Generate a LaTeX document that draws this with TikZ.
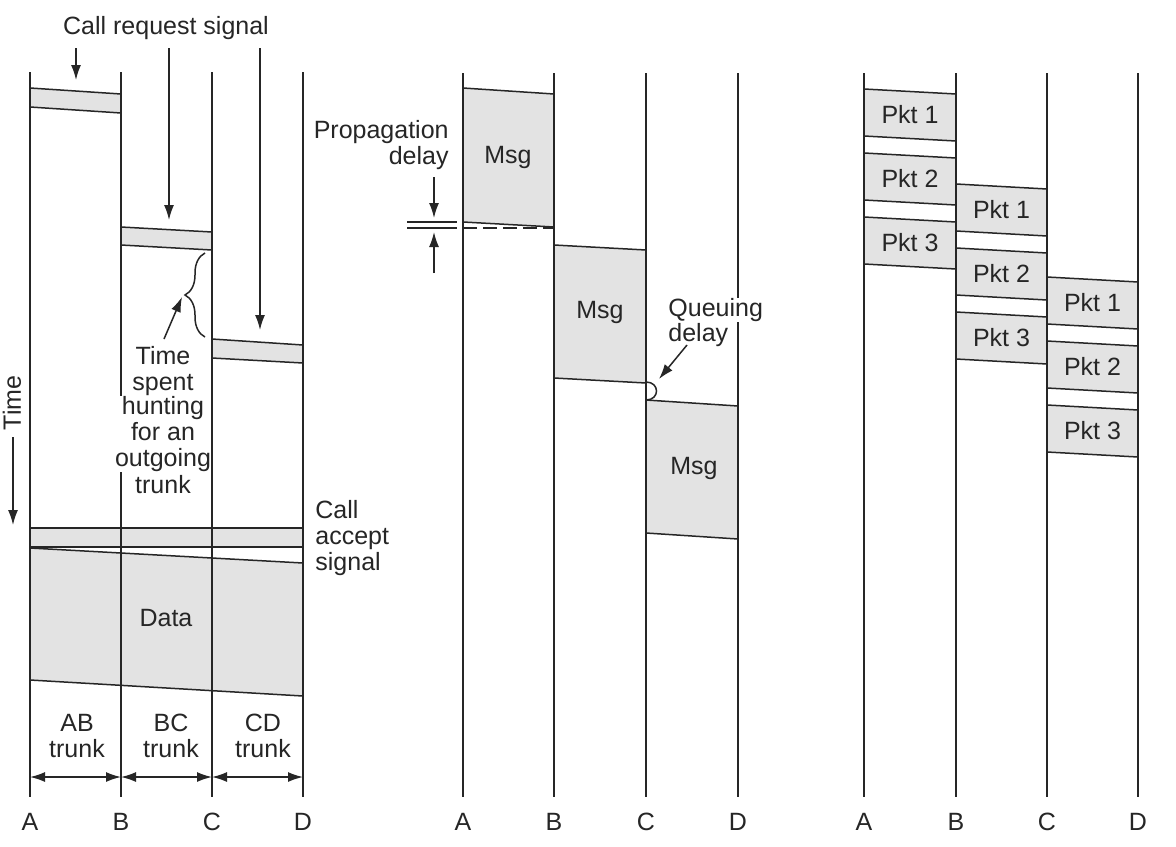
\documentclass[tikz,border=0pt]{standalone}
\usepackage{fontspec}
\setmainfont{Liberation Sans}
\usetikzlibrary{arrows.meta,decorations.pathreplacing}
\begin{document}
\begin{tikzpicture}[x=0.5pt,y=-0.5pt,
  every node/.style={font=\fontsize{12.5}{13}\selectfont, inner sep=0pt, text=black!85},
  ln/.style={draw=black!85, line width=0.75pt},
  band/.style={draw=black!85, line width=0.75pt, fill=black!11},
  arr/.style={draw=black!85, line width=0.75pt, -{Latex[length=7.5pt,width=5pt]}},
  darr/.style={draw=black!85, line width=0.75pt, {Latex[length=7.5pt,width=5pt]}-{Latex[length=7.5pt,width=5pt]}},
  lbl/.style={align=center}]
\useasboundingbox[fill=white] (0,0) rectangle (1176,846);

% ---------------- left panel: circuit switching ----------------
\draw[band] (30,88) -- (121,94) -- (121,113) -- (30,107) -- cycle;
\draw[band] (121,227) -- (212,232) -- (212,250) -- (121,245) -- cycle;
\draw[band] (212,339) -- (303,345) -- (303,363) -- (212,358) -- cycle;
\draw[band] (30,528) rectangle (303,547);
\draw[band] (30,548) -- (303,563) -- (303,696) -- (30,680) -- cycle;
\node (data) at (166,618) {Data};

\foreach \n/\x in {A/30,B/121,C/212,D/303}{
  \coordinate (L\n t) at (\x,72);
  \coordinate (L\n b) at (\x,797);
  \draw[ln] (L\n t) -- (L\n b);
  \node (L\n lab) at (\x,822) {\n};
}

\node (crs) at (166,28) {Call request signal};
\coordinate (cr1s) at (76,48);  \coordinate (cr1e) at (76,80);
\coordinate (cr2s) at (169,48); \coordinate (cr2e) at (169,220);
\coordinate (cr3s) at (260,48); \coordinate (cr3e) at (260,330);
\draw[arr] (cr1s) -- (cr1e);
\draw[arr] (cr2s) -- (cr2e);
\draw[arr] (cr3s) -- (cr3e);

\coordinate (brb) at (205,337); \coordinate (brt) at (205,253);
\draw[ln, decorate, decoration={brace, amplitude=10pt}] (brb) -- (brt);
\node[lbl] (ts1) at (163,371) {Time\\spent};
\node[lbl, fill=white] (ts2) at (163,434) {hunting\\for an\\outgoing};
\node[lbl] (ts3) at (163,485) {trunk};
\coordinate (tsa) at (164,339); \coordinate (tsb) at (182,297);
\draw[arr] (tsa) -- (tsb);

\node[rotate=90] (time) at (12,403) {Time};
\coordinate (tma) at (13,437); \coordinate (tmb) at (13,525);
\draw[arr] (tma) -- (tmb);

\node[align=left, anchor=west] (cas) at (315,538) {Call\\accept\\signal};

\node[lbl] (ab) at (77,736) {AB\\trunk};
\node[lbl] (bc) at (171,736) {BC\\trunk};
\node[lbl] (cd) at (263,736) {CD\\trunk};
\coordinate (tA) at (30,777); \coordinate (tB) at (121,777);
\coordinate (tC) at (212,777); \coordinate (tD) at (303,777);
\draw[darr] (tA) -- (tB);
\draw[darr] (tB) -- (tC);
\draw[darr] (tC) -- (tD);

% ---------------- middle panel: message switching ----------------
\draw[band] (463,88) -- (554,94) -- (554,227) -- (463,222) -- cycle;
\draw[band] (554,245) -- (646,250) -- (646,383) -- (554,378) -- cycle;
\draw[band] (646,400) -- (738,406) -- (738,539) -- (646,533) -- cycle;
\node (msg1) at (508,157) {Msg};
\node (msg2) at (600,312) {Msg};
\node (msg3) at (694,468) {Msg};

\foreach \n/\x in {A/463,B/554,C/646,D/738}{
  \coordinate (M\n t) at (\x,73);
  \coordinate (M\n b) at (\x,797);
  \draw[ln] (M\n t) -- (M\n b);
  \node (M\n lab) at (\x,822) {\n};
}

\coordinate (dsa) at (463,228); \coordinate (dsb) at (554,228);
\draw[ln, dashed, dash pattern=on 7pt off 3pt] (dsa) -- (dsb);
\coordinate (p1a) at (407,222); \coordinate (p1b) at (457,222);
\coordinate (p2a) at (407,228); \coordinate (p2b) at (457,228);
\draw[ln] (p1a) -- (p1b);
\draw[ln] (p2a) -- (p2b);
\coordinate (pa1) at (434,177); \coordinate (pa2) at (434,218);
\coordinate (pb1) at (434,273); \coordinate (pb2) at (434,232);
\draw[arr] (pa1) -- (pa2);
\draw[arr] (pb1) -- (pb2);
\node[align=right, anchor=east] (pd) at (449,145) {Propagation\\delay};

\coordinate (qa) at (646,382); \coordinate (qb) at (646,400);
\draw[ln] (qa) .. controls (660,382) and (660,400) .. (qb);
\node[anchor=west, fill=white] (q1) at (668,310) {Queuing};
\node[anchor=west] (q2) at (668,335) {delay};
\coordinate (qaa) at (687,345); \coordinate (qab) at (659,379);
\draw[arr] (qaa) -- (qab);

% ---------------- right panel: packet switching ----------------
\foreach \xl/\xr/\s/\c in {864/956/89/ab, 956/1047/184/bc, 1047/1138/277/cd}{
  \foreach \k in {1,2,3}{
    \pgfmathsetmacro\yt{\s+64*(\k-1)}
    \draw[band] (\xl,\yt) -- (\xr,\yt+5) -- (\xr,\yt+52) -- (\xl,\yt+47) -- cycle;
    \node (pkt\c\k) at ({(\xl+\xr)/2},\yt+26) {Pkt \k};
  }
}
\foreach \n/\x in {A/864,B/956,C/1047,D/1138}{
  \coordinate (R\n t) at (\x,73);
  \coordinate (R\n b) at (\x,797);
  \draw[ln] (R\n t) -- (R\n b);
  \node (R\n lab) at (\x,822) {\n};
}
\end{tikzpicture}
\end{document}
